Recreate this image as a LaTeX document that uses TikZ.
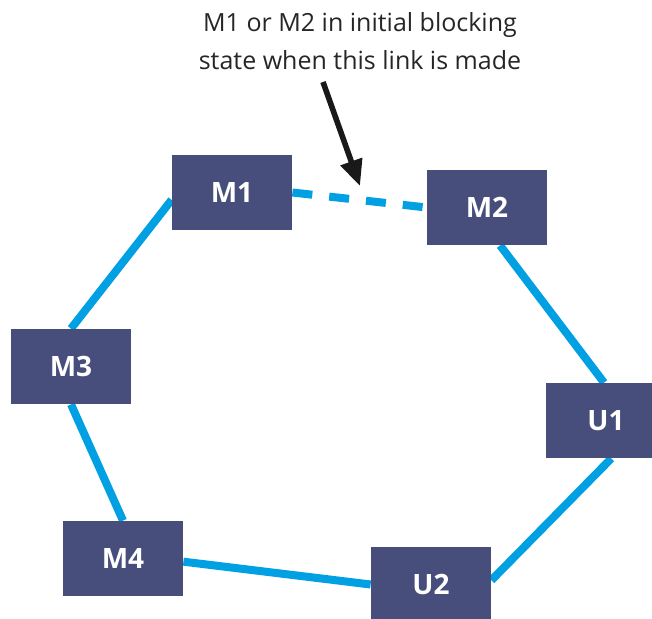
\documentclass[tikz,border=0pt]{standalone}
\usepackage{fontspec}
\setmainfont{Open Sans}
\usetikzlibrary{arrows.meta,backgrounds}
\definecolor{boxblue}{RGB}{71,78,124}
\definecolor{linkblue}{RGB}{0,160,227}
\tikzset{
	switch/.style={fill=boxblue,text=white,font=\fontsize{14}{17}\selectfont\bfseries,minimum width=60pt,minimum height=37.5pt,inner sep=0pt},
	link/.style={draw=linkblue,line width=4pt},
	newlink/.style={link,dash pattern=on 10pt off 8.5pt}
}
\begin{document}
\begin{tikzpicture}[x=0.5pt,y=-0.5pt]
				\clip (0,0) rectangle (652,619);
				\node[switch] (M1) at (232,192.5) {M1};
				\node[switch] (M2) at (487,207.5) {M2};
				\node[switch] (M3) at (71,366.5) {M3};
				\node[switch] (U1) at (606,420.5) {U1};
				\node[switch] (M4) at (123,558.5) {M4};
				\node[switch] (U2) at (431,584.5) {U2};
				\node[align=center,font=\fontsize{12.5}{19}\selectfont,text=black!85] (note) at (360,41) {M1 or M2 in initial blocking\\state when this link is made};
				\coordinate (tail) at (323,82);
				\coordinate (tip) at (360,186);
				\draw[line width=2.8pt,-{Triangle[length=13pt,width=11pt]},black!90] (tail) -- (tip);
				\begin{scope}[on background layer]
				\draw[link] (M1.187) -- (M3.north);
				\draw[link] (M3.south) -- (M4.north);
				\draw[link] (M4.357) -- (U2.west);
				\draw[link] (U2.4) -- (U1.278);
				\draw[link] (U1.93) -- (M2.289);
				\draw[newlink] (M1.east) -- (M2.west);
				\end{scope}
				\end{tikzpicture}
\end{document}
